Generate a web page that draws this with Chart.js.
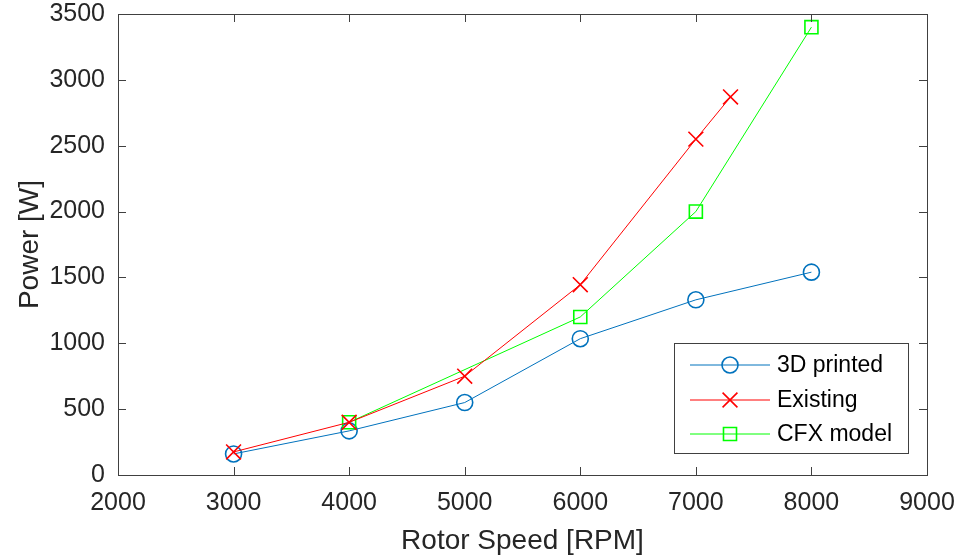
<!DOCTYPE html>
<html>
<head>
<meta charset="utf-8">
<script src="https://cdn.jsdelivr.net/npm/chart.js@4.4.1/dist/chart.umd.min.js"></script>
<style>
html,body{margin:0;padding:0;background:#fff;}
#wrap{width:956px;height:558px;position:relative;}
</style>
</head>
<body>
<div id="wrap"><canvas id="c" width="956" height="558"></canvas></div>
<script>
// ---- data ----
const speed3D = [3000, 4000, 5000, 6000, 7000, 8000];
const power3D = [160, 335, 550, 1035, 1330, 1540];
const speedExisting = [3000, 4000, 5000, 6000, 7000, 7300];
const powerExisting = [175, 400, 750, 1445, 2550, 2870];
const speedCFX = [4000, 6000, 7000, 8000];
const powerCFX = [400, 1200, 2000, 3400];
const seriesNames = ['3D printed', 'Existing', 'CFX model'];
const xTicks = [2000, 3000, 4000, 5000, 6000, 7000, 8000, 9000];
const yTicks = [0, 500, 1000, 1500, 2000, 2500, 3000, 3500];
const xTitle = 'Rotor Speed [RPM]';
const yTitle = 'Power [W]';

const FONT = '"Liberation Sans", Arial, sans-serif';
const TXT = '#262626';

function pts(xs, ys){ return xs.map((x,i)=>({x:x, y:ys[i]})); }

const boxPlugin = {
  id: 'box',
  afterDatasetsDraw(chart){
    const {ctx, chartArea:a, scales} = chart;
    ctx.save();
    ctx.strokeStyle = '#404040';
    ctx.lineWidth = 1;
    ctx.strokeRect(Math.round(a.left)+0.5, Math.round(a.top)+0.5, Math.round(a.right-a.left), Math.round(a.bottom-a.top));
    const L = 8;
    ctx.beginPath();
    xTicks.forEach(v=>{
      const x = Math.round(scales.x.getPixelForValue(v))+0.5;
      ctx.moveTo(x, a.bottom); ctx.lineTo(x, a.bottom-L);
      ctx.moveTo(x, a.top); ctx.lineTo(x, a.top+L);
    });
    yTicks.forEach(v=>{
      const y = Math.round(scales.y.getPixelForValue(v))+0.5;
      ctx.moveTo(a.left, y); ctx.lineTo(a.left+L, y);
      ctx.moveTo(a.right, y); ctx.lineTo(a.right-L, y);
    });
    ctx.stroke();
    ctx.restore();
  },
  afterDraw(chart){
    const ctx = chart.ctx;
    const bx = 674.5, by = 343.5, bw = 234, bh = 110;
    ctx.save();
    ctx.fillStyle = '#fff';
    ctx.fillRect(bx, by, bw, bh);
    ctx.strokeStyle = '#404040';
    ctx.lineWidth = 1;
    ctx.strokeRect(bx, by, bw, bh);
    const rows = [365, 400, 434];
    chart.data.datasets.forEach((ds, i)=>{
      const y = rows[i];
      ctx.strokeStyle = ds.borderColor;
      ctx.lineWidth = 1;
      ctx.beginPath(); ctx.moveTo(690, y); ctx.lineTo(770, y); ctx.stroke();
      ctx.fillStyle = 'rgba(0,0,0,0)';
      ctx.lineWidth = ds.pointBorderWidth;
      Chart.helpers.drawPoint(ctx, {pointStyle: ds.pointStyle, radius: ds.pointRadius, borderWidth: ds.pointBorderWidth, rotation: 0}, 730, y);
      ctx.fillStyle = '#000';
      ctx.font = '23px ' + FONT;
      ctx.textBaseline = 'middle';
      ctx.textAlign = 'left';
      ctx.fillText(ds.label, 777, y+1);
    });
    ctx.restore();
  }
};

const mk = (label, data, color, style, r, order) => ({
  label, data, borderColor: color, backgroundColor: 'rgba(0,0,0,0)',
  borderWidth: 1, pointStyle: style, pointRadius: r, pointHoverRadius: r,
  pointBorderColor: color, pointBackgroundColor: 'rgba(0,0,0,0)', pointBorderWidth: 1.6,
  tension: 0, fill: false, order
});

new Chart(document.getElementById('c'), {
  type: 'line',
  data: {
    datasets: [
      mk(seriesNames[0], pts(speed3D, power3D), '#0072BD', 'circle', 8, 2),
      mk(seriesNames[1], pts(speedExisting, powerExisting), '#FF0000', 'crossRot', 10.5, 0),
      mk(seriesNames[2], pts(speedCFX, powerCFX), '#00FF00', 'rect', 9.2, 1)
    ]
  },
  options: {
    responsive: false,
    animation: false,
    events: [],
    layout: {padding: {top: 14, right: 29, left: 0, bottom: 0}},
    plugins: {legend: {display: false}, tooltip: {enabled: false}},
    scales: {
      x: {
        type: 'linear', min: 2000, max: 9000,
        afterBuildTicks: s => { s.ticks = xTicks.map(v=>({value:v})); },
        afterFit: s => { s.height = 83; s.paddingRight = 0; s.paddingLeft = 0; },
        grid: {display: false, drawTicks: false},
        border: {display: false},
        ticks: {color: TXT, font: {family: FONT, size: 25}, padding: 13, maxRotation: 0, autoSkip: false, callback: v => String(v)},
        title: {display: true, text: xTitle, color: TXT, font: {family: FONT, size: 28}, padding: {top: 0, bottom: 0}}
      },
      y: {
        type: 'linear', min: 0, max: 3500,
        afterBuildTicks: s => { s.ticks = yTicks.map(v=>({value:v})); },
        afterFit: s => { s.width = 118; s.paddingTop = 0; s.paddingBottom = 0; },
        grid: {display: false, drawTicks: false},
        border: {display: false},
        ticks: {color: TXT, font: {family: FONT, size: 25}, padding: 13, autoSkip: false, callback: v => String(v)},
        title: {display: true, text: yTitle, color: TXT, font: {family: FONT, size: 28}, padding: {top: 13, bottom: 0}}
      }
    }
  },
  plugins: [boxPlugin]
});
</script>
</body>
</html>
